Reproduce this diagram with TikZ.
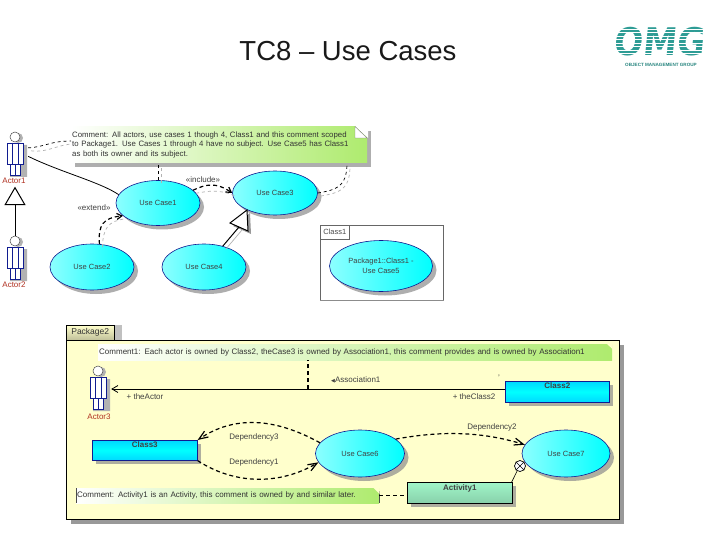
\documentclass[tikz,border=0pt]{standalone}
\usepackage{fontspec}
\setmainfont{Liberation Sans}
\newfontfamily\logofont{DejaVu Sans}
\usetikzlibrary{shapes.geometric,shadows,arrows.meta,calc}
\definecolor{omgteal}{HTML}{2E9C95}
\definecolor{navyline}{HTML}{101C90}
\definecolor{pkgfill}{HTML}{FFFFCC}
\definecolor{notegreen}{HTML}{AEEB6E}
\definecolor{actorred}{HTML}{B03020}
\definecolor{actfill}{HTML}{A0F5C8}
\tikzset{
  sh/.style={drop shadow={shadow xshift=4pt,shadow yshift=-4pt,fill=black!45,opacity=.7}},
  usecase/.style={ellipse,draw=navyline,line width=.6pt,inner sep=0pt,left color=cyan!45!white,right color=cyan,sh,font=\fontsize{7.5}{9.5}\selectfont,text=black!75,align=center},
  classbox/.style={rectangle,draw=navyline,line width=.6pt,top color=cyan!85!blue,bottom color=cyan!85!blue,middle color=cyan,sh,anchor=north west,inner sep=1.5pt,font=\fontsize{8}{9}\selectfont\bfseries,text=black!75},
  notebox/.style={rectangle,left color=white,right color=notegreen,anchor=north west,inner sep=1pt,font=\fontsize{7.8}{9.6}\selectfont,text=black!80,align=left},
  lbl/.style={font=\fontsize{8}{9}\selectfont,text=black!75,inner sep=0pt},
  actorlbl/.style={font=\fontsize{8}{9}\selectfont,text=actorred,inner sep=0pt},
  actorhit/.style={rectangle,minimum width=26pt,minimum height=44pt,inner sep=0pt},
  dep/.style={dash pattern=on 4pt off 3pt,line width=1.2pt,black},
  thindep/.style={dashed,line width=.7pt,black},
  ghost/.style={black!30,line width=.7pt,transform canvas={xshift=3pt,yshift=-3pt}},
  opena/.style={-{Straight Barb[length=5pt,width=6pt]}},
  pics/actorfig/.style={code={
    \fill[black!30] (3,1) circle (5) (-5,8) rectangle (12,40);
    \draw[navyline,fill=white,line width=.6pt] (-8,6) -- (8,6) -- (8,27) -- (5,27) -- (5,38) -- (-5,38) -- (-5,27) -- (-8,27) -- cycle;
    \draw[navyline,line width=.6pt] (-3,6) -- (-3,27) (3,6) -- (3,27) (0,27) -- (0,38) (-5,27) -- (5,27);
    \draw[black!70,fill=white,line width=.5pt] (0,0) circle (5);
  }}
}
\begin{document}
\begin{tikzpicture}[x=1pt,y=-1pt]
\useasboundingbox (0,0) rectangle (720,540);
\fill[white] (0,0) rectangle (720,540);
% title
\node[font=\fontsize{27.5}{30}\selectfont,text=black!90,inner sep=0pt] (title) at (348,51) {TC8 – Use Cases};
% logo
\node[text=omgteal,font=\logofont\bfseries\fontsize{34}{34}\selectfont,inner sep=0pt,xslant=.1,yscale=1.12] (logo) at (660,42) {OMG};
\foreach \yy in {29,32.5,...,58} {\draw[white,line width=.8pt] (608,\yy) -- (714,\yy);}
\node[text=omgteal!85!black,font=\fontsize{4.6}{5}\selectfont\bfseries,inner sep=0pt] (logotext) at (661,65) {OBJECT MANAGEMENT GROUP};

% ===== upper diagram =====
\node[notebox,minimum width=296pt,minimum height=36pt,sh,text width=294pt] (cmt) at (71,126.5)
 {Comment: All actors, use cases 1 though 4, Class1 and this comment scoped\\to Package1. Use Cases 1 through 4 have no subject. Use Case5 has Class1\\as both its owner and its subject.};
\fill[white] (355,126) -- (368,126) -- (368,138) -- cycle;
\draw[black!50,line width=.4pt,fill=white] (355,126.5) -- (367,138) -- (355,138) -- cycle;

\node[usecase,minimum width=84pt,minimum height=45pt] (uc1) at (158,203) {Use Case1};
\node[usecase,minimum width=84pt,minimum height=46pt] (uc2) at (92,267) {Use Case2};
\node[usecase,minimum width=84pt,minimum height=46pt] (uc4) at (204,267) {Use Case4};
\node[usecase,minimum width=85pt,minimum height=44pt] (uc3) at (275,193) {Use Case3};

% actors
\pic at (15,137) {actorfig};
\node[actorhit] (actor1) at (15,154) {};
\node[actorlbl] (actor1lbl) at (14,181) {Actor1};
\pic at (15,241) {actorfig};
\node[actorhit] (actor2) at (15,258) {};
\node[actorlbl] (actor2lbl) at (14,285) {Actor2};
\node[isosceles triangle,isosceles triangle apex angle=60,shape border rotate=90,draw=black,fill=white,line width=1pt,minimum height=17pt,inner sep=0pt] (gen1) at (15,199) {};
\draw[line width=1pt] (actor2.north) -- (gen1.south);

% connectors
\draw[ghost,dashed] (actor1.25) .. controls (45,150) and (55,141) .. (cmt.west |- 0,141);
\draw[thindep] (actor1.25) .. controls (45,147) and (50,141) .. (cmt.west |- 0,141);
\draw[line width=.8pt] (actor1.-10) .. controls (60,172) and (100,182) .. (uc1.168);
\draw[ghost,dashed] (uc1.north) -- (uc1.north |- cmt.south);
\draw[thindep] (uc1.north) -- (uc1.north |- cmt.south);
\draw[ghost,dashed] (uc2.72) .. controls (100,225) and (105,218) .. (uc1.200);
\draw[dep,opena] (uc2.72) .. controls (98,225) and (103,218) .. (uc1.200);
\node[lbl] (extend) at (94,208) {«extend»};
\draw[ghost,dashed] (uc1.20) .. controls (206,188) and (216,186) .. (uc3.180);
\draw[dep,opena] (uc1.20) .. controls (206,184) and (216,182) .. (uc3.180);
\node[lbl] (include) at (203,180) {«include»};
\draw[ghost,dashed] (uc3.east) .. controls (335,190) and (347,188) .. (347,163);
\draw[thindep] (uc3.east) .. controls (335,190) and (347,188) .. (347,163);
% generalisation
\coordinate (gen2apex) at (247,210);
\coordinate (gen2a) at (230,223);
\coordinate (gen2b) at (248,231);
\coordinate (gen2mid) at ($(gen2a)!.5!(gen2b)$);
\fill[black!40] ($(gen2apex)+(3,3)$) -- ($(gen2a)+(3,3)$) -- ($(gen2b)+(3,3)$) -- cycle;
\draw[black,fill=white,line width=1pt,line join=miter] (gen2apex) -- (gen2a) -- (gen2b) -- cycle;
\draw[ghost] (uc4.48) -- (gen2mid);
\draw[line width=1pt] (uc4.48) -- (gen2mid);

% Class frame
\node[rectangle,draw=black!60,line width=.5pt,fill=white,anchor=north west,minimum width=123pt,minimum height=75pt,inner sep=0pt] (frame) at (320,225) {};
\draw[black!45,line width=1pt] (frame.south west) -- (frame.south east);
\node[rectangle,draw=black!60,line width=.5pt,fill=white,anchor=north west,minimum width=29pt,minimum height=14pt,inner sep=0pt,font=\fontsize{7.5}{8}\selectfont,text=black!70] (frametab) at (320,225) {Class1};
\node[usecase,minimum width=103pt,minimum height=51pt] (uc5) at (381,266) {Package1::Class1 -\\Use Case5};

% ===== Package2 =====
\node[rectangle,draw=black,line width=.5pt,top color=pkgfill,bottom color=pkgfill!75!black,anchor=north west,minimum width=48pt,minimum height=15pt,inner sep=0pt,drop shadow={shadow xshift=8pt,shadow yshift=0pt,fill=black!35,opacity=.7},font=\fontsize{8.5}{9}\selectfont,text=black!80] (pkgtab) at (66,325) {Package2};
\node[rectangle,draw=black,line width=.7pt,fill=pkgfill,anchor=north west,minimum width=553pt,minimum height=179pt,inner sep=0pt,drop shadow={shadow xshift=5pt,shadow yshift=-5pt,fill=black!50,opacity=.8}] (pkg) at (66,340) {};
\node[notebox,minimum width=514pt,minimum height=16pt,font=\fontsize{8}{9}\selectfont,text width=512pt] (cmt2) at (98,344)
 {Comment1: Each actor is owned by Class2, theCase3 is owned by Association1, this comment provides and is owned by Association1};
\fill[pkgfill] (607,344) -- (612.5,344) -- (612.5,349) -- cycle;
\node[notebox,minimum width=303pt,minimum height=15pt,draw=none,font=\fontsize{8}{9}\selectfont,text width=301pt] (cmt3) at (76,488)
 {Comment: Activity1 is an Activity, this comment is owned by and similar later.};
\draw[black!70,line width=.5pt] (cmt3.north west) -- (cmt3.south west) (cmt3.north east) ++(0,3) -- (cmt3.south east);
\fill[pkgfill] (373,487.5) -- (379.5,487.5) -- (379.5,494) -- cycle;

\pic at (98,371) {actorfig};
\node[actorhit] (actor3) at (98,388) {};
\node[actorlbl] (actor3lbl) at (99,417) {Actor3};

\node[classbox,minimum width=104pt,minimum height=21pt,anchor=north west,text depth=12pt] (class2) at (505,381) {Class2};
\node[classbox,minimum width=105pt,minimum height=20pt,anchor=north west,text depth=11pt] (class3) at (92,440) {Class3};
\node[usecase,minimum width=89pt,minimum height=47pt] (uc6) at (360,453.5) {Use Case6};
\node[usecase,minimum width=88pt,minimum height=47pt] (uc7) at (566,453.5) {Use Case7};
\node[rectangle,draw=black,line width=.7pt,top color=actfill,bottom color=actfill!85!black,sh,anchor=north west,minimum width=105pt,minimum height=21pt,inner sep=1.5pt,font=\fontsize{8}{9}\selectfont\bfseries,text=black!75,text depth=11pt] (act1) at (407,482) {Activity1};

% Association
\draw[line width=.8pt,-{Straight Barb[length=6pt,width=7pt]}] (class2.west |- 0,389) -- (actor3.east |- 0,389);
\coordinate (assocmid) at (308,389);
\draw[dep,line width=1.2pt] (assocmid) -- (assocmid |- cmt2.south);
\node[lbl,anchor=west] (assoclbl) at (331,380) {{\logofont\fontsize{5}{5}\selectfont ◀}Association1};
\node[lbl] (theactor) at (145,397) {+ theActor};
\node[lbl] (theclass) at (474,397) {+ theClass2};
\node[lbl] (star) at (499,378) {'};

% Dependencies
\draw[dep,-{Straight Barb[length=9pt,width=7pt]}] (uc6.165) .. controls (275,418) and (235,415) .. (class3.north east);
\node[lbl] (dep3) at (254,437) {Dependency3};
\draw[dep,-{Straight Barb[length=9pt,width=7pt]}] (class3.south east) .. controls (235,485) and (280,485) .. (uc6.192);
\node[lbl] (dep1) at (254,462) {Dependency1};
\draw[dep,-{Straight Barb[length=9pt,width=7pt]}] (uc6.22) .. controls (440,431) and (480,431) .. (uc7.168);
\node[lbl] (dep2) at (492,427) {Dependency2};

% extend circle
\node[circle,draw=black,fill=white,line width=.7pt,minimum size=11pt,inner sep=0pt] (xcirc) at (520,466) {};
\draw[line width=.6pt] (xcirc.45) -- (xcirc.225) (xcirc.135) -- (xcirc.315);
\draw[line width=.6pt] (act1.north east) ++(-1,0) -- (xcirc.240);
\draw[dep,line width=1.2pt] (cmt3.east) -- (act1.west |- cmt3.east);
\end{tikzpicture}
\end{document}
